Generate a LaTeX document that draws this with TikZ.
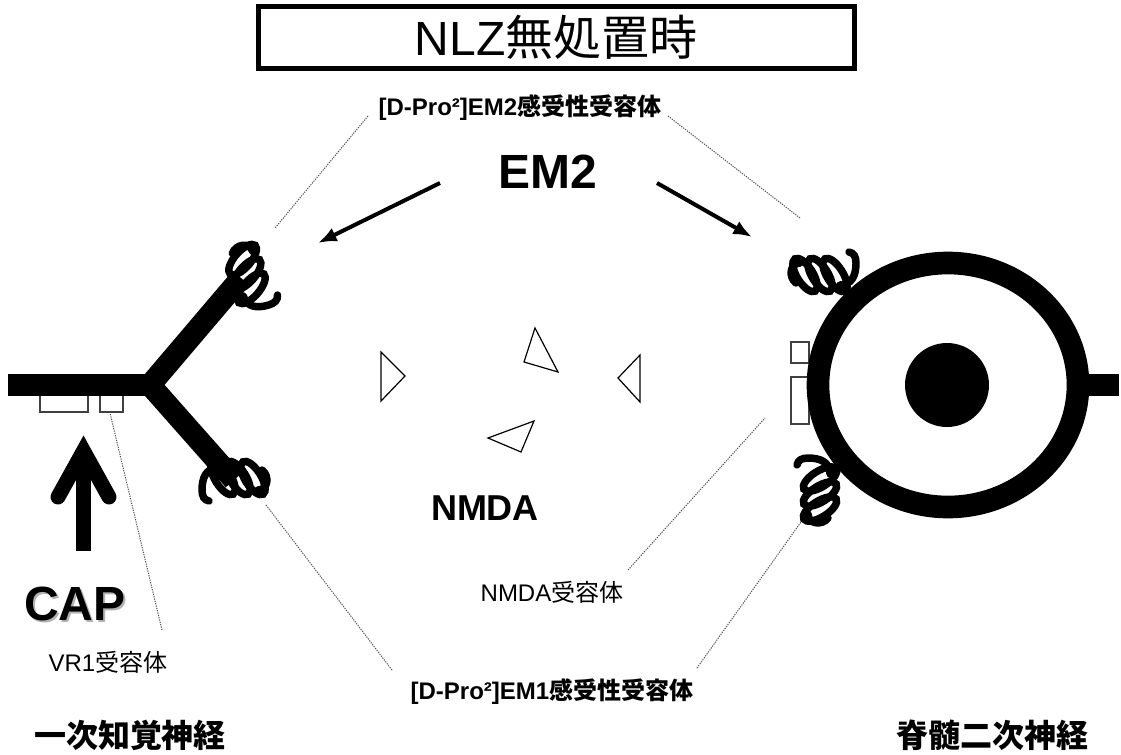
\documentclass[tikz,border=0pt]{standalone}
\usepackage{fontspec}
\setmainfont{Liberation Sans}
\newfontfamily\jpfont{Noto Sans CJK JP}
\usetikzlibrary{arrows.meta}
\newcommand\jtx[1]{{\jpfont #1}}
\begin{document}
\begin{tikzpicture}[x=0.75pt,y=-0.75pt,
  axon/.style={line width=16.5pt,line cap=butt},
  springline/.style={line width=5.6pt,line cap=round},
  guide/.style={draw=black!70,line width=0.75pt,dash pattern=on 0.9pt off 0.9pt},
  chan/.style={draw=black!75,fill=white,line width=1.1pt},
  ligand/.style={draw=black,line width=0.9pt,line join=miter},
  bind/.style={line width=3pt,-{Latex[length=14pt,width=11pt]}},
  lab/.style={inner sep=0pt,font=\fontsize{18}{20}\selectfont},
  blab/.style={inner sep=0pt,font=\fontsize{18}{20}\selectfont\bfseries},
  nrvlabel/.style={inner sep=0pt,font=\fontsize{24}{26}\selectfont\bfseries},
  % a receptor drawn as a short helix with a curl at one end and a hook at the other
  spring/.pic={
    \foreach \c in {-15,0,15}
      \draw[springline,rotate around={32:(\c,0)}] (\c,0) ellipse [x radius=8,y radius=19];
    \draw[springline] (-20,-12) .. controls (-30,-12) and (-32,2) .. (-24,8);
    \draw[springline] (20,10) .. controls (32,10) and (36,0) .. (36,-12)
      .. controls (36,-18) and (34,-22) .. (29,-23);
  }]
\useasboundingbox (0,0) rectangle (1121,754);
\fill[white] (0,0) rectangle (1121,754);

% title
\node[draw,line width=3.75pt,minimum width=447pt,minimum height=46.5pt,inner sep=0pt,
  font=\fontsize{36}{40}\selectfont] (title) at (556,37) {NLZ\jtx{無処置時}};

% labels
\node[blab] (em2r) at (520,108) {[D-Pro²]EM2\jtx{感受性受容体}};
\node[blab] (em1r) at (552,692) {[D-Pro²]EM1\jtx{感受性受容体}};
\node[inner sep=0pt,font=\fontsize{36}{40}\selectfont\bfseries] (em2) at (548,172) {EM2};
\node[inner sep=0pt,font=\fontsize{27}{30}\selectfont\bfseries] (nmda) at (485,508) {NMDA};
\node[lab] (nmdar) at (552,592) {NMDA\jtx{受容体}};
\node[lab] (vr1) at (108,662) {VR1\jtx{受容体}};
\node[inner sep=0pt,text=black!30,font=\fontsize{36}{40}\selectfont\bfseries] (capshadow) at (77,606) {CAP};
\node[inner sep=0pt,font=\fontsize{36}{40}\selectfont\bfseries] (cap) at (75,604) {CAP};
\node[nrvlabel] (n1) at (130,735) {\jtx{一次知覚神経}};
\node[nrvlabel] (n2) at (992,735) {\jtx{脊髄二次神経}};

% receptor sites
\coordinate (rTL) at (275,228);
\coordinate (rTR) at (800,218);
\coordinate (rBL) at (266,505);
\coordinate (rBR) at (801,522);
\coordinate (rN) at (765,418);
\coordinate (rV) at (110,413);
\coordinate (aL) at (318,243);
\coordinate (aR) at (752,237);

% guide lines
\draw[guide] (368,116) -- (rTL);
\draw[guide] (668,116) -- (rTR);
\draw[guide] (392,670) -- (rBL);
\draw[guide] (697,668) -- (rBR);
\draw[guide] (628,570) -- (rN);
\draw[guide] (162,630) -- (rV);

% EM2 arrows
\draw[bind] (440,183) -- (aL);
\draw[bind] (657,183) -- (aR);

% primary sensory neuron
\draw[chan] (40,390) rectangle (88,412);
\draw[chan] (100,390) rectangle (123,412);
\draw[axon] (8,385) -- (152,385);
\draw[axon] (150,385) -- (241,278);
\draw[axon] (150,385) -- (234,480);

% spinal neuron
\draw[chan] (791,342) rectangle (809,363);
\draw[chan] (791,377) rectangle (809,424);
\draw[line width=17pt] (948,385) ellipse [x radius=130,y radius=122];
\fill (947,385) circle (42);
\draw[axon] (1085,385) -- (1119,385);

% ligands
\draw[ligand] (381,352) -- (381,401) -- (405,376) -- cycle;
\draw[ligand] (535,328) -- (524,362) -- (558,372) -- cycle;
\draw[ligand] (488,438) -- (534,421) -- (521,452) -- cycle;
\draw[ligand] (640,355) -- (618,378) -- (640,402) -- cycle;

% capsaicin stimulus
\draw[line width=11.25pt,line cap=butt] (83.5,551) -- (83.5,452);
\draw[line width=11.25pt,line cap=round,line join=miter] (58,497) -- (83.5,451) -- (109,497);

% receptors
\pic[rotate=-73] at (247,274) {spring};
\pic[rotate=180] at (238,478) {spring};
\pic at (820,275) {spring};
\pic[rotate=90] at (820,494) {spring};
\end{tikzpicture}
\end{document}
